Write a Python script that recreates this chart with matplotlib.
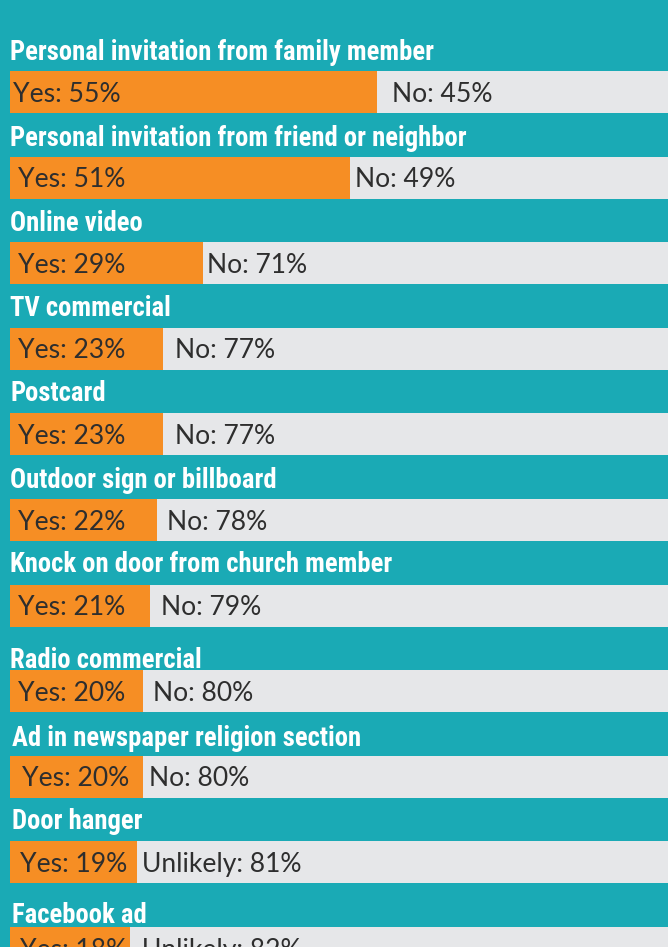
import matplotlib
matplotlib.use("Agg")
import matplotlib.pyplot as plt

# Survey responses: share who would respond to each kind of outreach
categories = [
    "Personal invitation from family member",
    "Personal invitation from friend or neighbor",
    "Online video",
    "TV commercial",
    "Postcard",
    "Outdoor sign or billboard",
    "Knock on door from church member",
    "Radio commercial",
    "Ad in newspaper religion section",
    "Door hanger",
    "Facebook ad",
]
yes_pct = [55, 51, 29, 23, 23, 22, 21, 20, 20, 19, 18]
no_pct = [45, 49, 71, 77, 77, 78, 79, 80, 80, 81, 82]
no_words = ["No", "No", "No", "No", "No", "No", "No", "No", "No", "Unlikely", "Unlikely"]

# Styling
TEAL = "#1aaab5"
ORANGE = "#f68e24"
GREY = "#e6e7e9"
INK = "#2e2e2e"
LABEL_FONT = ["Roboto Condensed", "DejaVu Sans"]
VALUE_FONT = ["Lato", "DejaVu Sans"]

W, H, DPI = 668, 947, 100
ROW = 85.6          # pixels between rows
FIRST = 92          # centre of first bar, pixels from top
BAR_PX = 42         # bar thickness in pixels
LEFT_PX = 10        # bar start
FULL_PX = 667       # pixel length of 100 %

# per-row text offsets (pixels)
label_rise = [11, 11, 11, 12, 12, 11, 13, 2, 10, 12, 4]
label_dx = [0, 0, 0, 0, 0, 0, 0, 0, 2, 2, 2]
yes_pad = [3, 8, 8, 8, 8, 8, 8, 8, 12, 10, 10]
no_pad = [15, 5, 4, 12, 12, 10, 11, 10, 6, 5, 12]

fig = plt.figure(figsize=(W / DPI, H / DPI), dpi=DPI, facecolor=TEAL)
ax = fig.add_axes([LEFT_PX / W, 0, FULL_PX / W, 1])
ax.set_facecolor(TEAL)
ax.set_xlim(0, 100)
ax.set_ylim((H - FIRST) / ROW, -FIRST / ROW)
ax.axis("off")

idx = list(range(len(categories)))
bh = BAR_PX / ROW
ax.barh(idx, yes_pct, height=bh, color=ORANGE, linewidth=0, clip_on=True)
ax.barh(idx, no_pct, left=yes_pct, height=bh, color=GREY, linewidth=0, clip_on=True)

cap_half = 9.5
for i, (cat, y, n, word) in enumerate(zip(categories, yes_pct, no_pct, no_words)):
    ax.annotate(cat, xy=(0, i - bh / 2), xytext=(label_dx[i], label_rise[i]),
                textcoords="offset pixels", ha="left", va="baseline",
                color="white", fontsize=19.2, fontweight="bold",
                family=LABEL_FONT, annotation_clip=False)
    ax.annotate(f"Yes: {y}%", xy=(0, i), xytext=(yes_pad[i], -cap_half),
                textcoords="offset pixels", ha="left", va="baseline",
                color=INK, fontsize=19.1, fontweight="normal",
                family=VALUE_FONT, annotation_clip=False)
    ax.annotate(f"{word}: {n}%", xy=(y, i), xytext=(no_pad[i], -cap_half),
                textcoords="offset pixels", ha="left", va="baseline",
                color=INK, fontsize=19.1, fontweight="normal",
                family=VALUE_FONT, annotation_clip=False)

fig.savefig("out.png", dpi=DPI, facecolor=TEAL)
